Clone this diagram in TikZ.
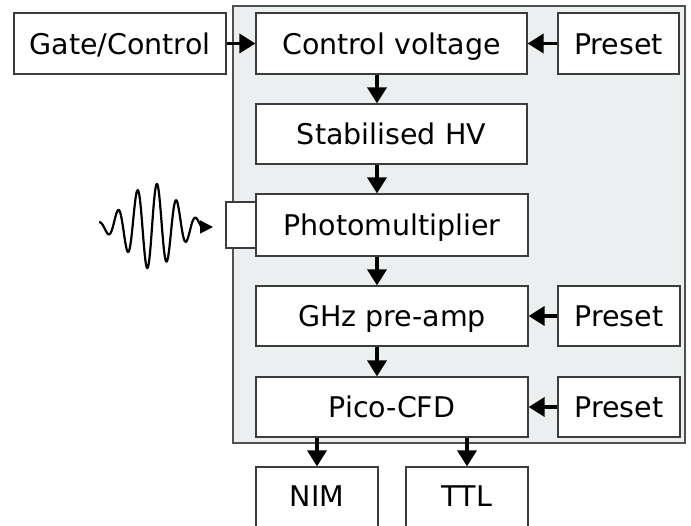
\documentclass[tikz,border=0pt]{standalone}
\usepackage{fontspec}
\setmainfont{DejaVu Sans}
\usetikzlibrary{arrows.meta}
\definecolor{panelgray}{RGB}{236,239,240}
\definecolor{edgegray}{RGB}{80,80,80}
\definecolor{boxedge}{RGB}{60,60,60}
\begin{document}
\begin{tikzpicture}[x=1pt,y=-1pt,
  txt/.style={font=\fontsize{28.5}{32}\selectfont,text height=22pt,text depth=0pt,inner sep=0pt},
  box/.style={draw=boxedge,line width=1.2pt,fill=white,txt},
  arr/.style={line width=3.5pt,-{Triangle[length=16pt,width=19pt]}}]
\useasboundingbox (0,0) rectangle (691,526);
\clip (0,0) rectangle (691,526);
\fill[panelgray,draw=edgegray,line width=1.2pt] (233,6) rectangle (685,443);
\node[box,minimum width=212pt,minimum height=61pt] (gate) at (120,43.5) {Gate/Control};
\node[box,minimum width=271pt,minimum height=61pt] (cv) at (391.5,43.5) {Control voltage};
\node[box,minimum width=121pt,minimum height=61pt] (p1) at (618.5,43.5) {Preset};
\node[box,minimum width=271pt,minimum height=60pt] (hv) at (391.5,134) {Stabilised HV};
\node[box,minimum width=30pt,minimum height=46pt] (sq) at (241,225) {};
\node[box,minimum width=272pt,minimum height=62pt] (pm) at (392,225) {Photomultiplier};
\node[box,minimum width=272pt,minimum height=60pt] (ghz) at (392,316) {GHz pre-amp};
\node[box,minimum width=122pt,minimum height=60pt] (p2) at (619,316) {Preset};
\node[box,minimum width=272pt,minimum height=60pt] (cfd) at (392,407) {Pico-CFD};
\node[box,minimum width=122pt,minimum height=60pt] (p3) at (619,407) {Preset};
\node[box,minimum width=122pt,minimum height=80pt] (nim) at (317,507) {};
\node[box,minimum width=122pt,minimum height=80pt] (ttl) at (467,507) {};
\node[txt] (nimt) at (317,496) {NIM};
\node[txt] (ttlt) at (467,496) {TTL};
\coordinate (ax) at (377,0);
\draw[arr] (gate.east) -- (cv.west);
\draw[arr] (p1.west) -- (cv.east);
\draw[arr] (cv.south -| ax) -- (hv.north -| ax);
\draw[arr] (hv.south -| ax) -- (pm.north -| ax);
\draw[arr] (pm.south -| ax) -- (ghz.north -| ax);
\draw[arr] (ghz.south -| ax) -- (cfd.north -| ax);
\draw[arr] (p2.west) -- (ghz.east);
\draw[arr] (p3.west) -- (cfd.east);
\draw[arr] (cfd.south -| nim.north) -- (nim.north);
\draw[arr] (cfd.south -| ttl.north) -- (ttl.north);
\draw[line width=2.2pt,line join=round,
  declare function={u(\t)=(\t-152)/34; wv(\t)=226-43*exp(-u(\t)*u(\t))*sin(18.4615*(\t-152.1));}]
  plot[domain=99:202,samples=150] (\x,{wv(\x)});
\coordinate (ws) at (200,227);
\coordinate (we) at (213,227);
\draw[-{Triangle[length=13pt,width=13pt]},line width=1.5pt] (ws) -- (we);
\end{tikzpicture}
\end{document}
